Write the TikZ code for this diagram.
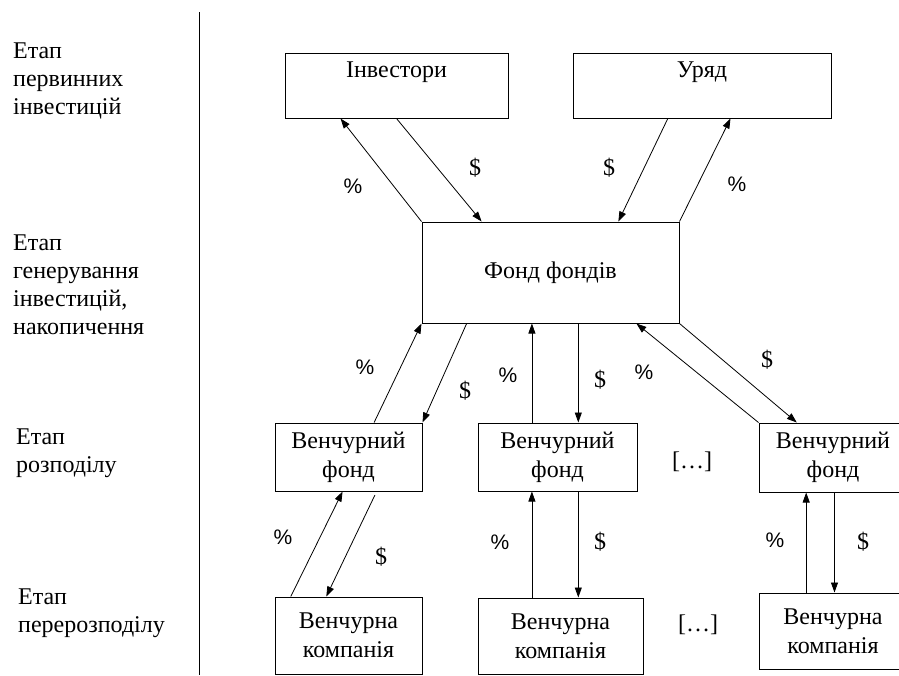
\documentclass[tikz,border=0pt]{standalone}
\usepackage{fontspec}
\setmainfont{Liberation Serif}
\newfontfamily\pctfont{Liberation Sans}
\usetikzlibrary{arrows.meta,calc}

\begin{document}
\begin{tikzpicture}[x=1pt, y=-1pt, every node/.style={font=\fontsize{24}{28}\selectfont}, box/.style={draw, line width=1pt, align=center, inner sep=0pt, font=\fontsize{24}{29}\selectfont}, arr/.style={-{Triangle[length=10pt,width=7pt]}, line width=0.8pt}, pct/.style={font=\pctfont\fontsize{21}{24}\selectfont}, usd/.style={font=\fontsize{24}{28}\selectfont}, stage/.style={anchor=north west, align=left, inner sep=0pt}, dots/.style={font=\fontsize{24}{28}\selectfont}]
\useasboundingbox (0,0) rectangle (899,675);
\clip (0,0) rectangle (899,675);
% stages
\node[stage] (st1) at (13,43) {Етап\\первинних\\інвестицій};
\node[stage] (st2) at (13,235) {Етап\\генерування\\інвестицій,\\накопичення};
\node[stage] (st3) at (16,429) {Етап\\розподілу};
\node[stage] (st4) at (18,589) {Етап\\перерозподілу};
\draw[line width=1pt] (199,12) -- (199,675);
% boxes
\node[box, minimum width=223pt, minimum height=65pt, label={[anchor=center, yshift=-20pt]north:Інвестори}] (inv) at (396.5,85.5) {};
\node[box, minimum width=258pt, minimum height=65pt, label={[anchor=center, yshift=-20pt]north:Уряд}] (gov) at (702,85.5) {};
\node[box, minimum width=257pt, minimum height=101pt] (fof) at (550.5,272.5) {Фонд фондів};
\node[box, minimum width=147pt, minimum height=68pt] (vf1) at (348.5,457) {Венчурний\\фонд};
\node[box, minimum width=159pt, minimum height=68pt] (vf2) at (557.5,457) {Венчурний\\фонд};
\node[box, minimum width=148pt, minimum height=69pt] (vf3) at (833,457.5) {Венчурний\\фонд};
\node[box, minimum width=147pt, minimum height=77pt] (vc1) at (348.5,635.5) {Венчурна\\компанія};
\node[box, minimum width=165pt, minimum height=76pt] (vc2) at (560.5,636) {Венчурна\\компанія};
\node[box, minimum width=148pt, minimum height=76pt] (vc3) at (833,631) {Венчурна\\компанія};
\node[dots] (d1) at (692,462) {[…]};
\node[dots] (d2) at (698,625) {[…]};
% top level
\draw[arr] (fof.north west) -- ($(inv.south west)!0.25!(inv.south east)$);
\draw[arr] (inv.south) -- ($(fof.north west)!0.233!(fof.north east)$);
\draw[arr] ($(gov.south west)!0.368!(gov.south east)$) -- ($(fof.north west)!0.763!(fof.north east)$);
\draw[arr] (fof.north east) -- ($(gov.south west)!0.61!(gov.south east)$);
\node[pct] (p1) at (353,186) {\%};
\node[usd] (s1) at (475,168) {\$};
\node[usd] (s2) at (609,168) {\$};
\node[pct] (p2) at (737,184) {\%};
% fund of funds to venture funds
\draw[arr] ($(vf1.north west)!0.673!(vf1.north east)$) -- (fof.south west);
\draw[arr] ($(fof.south west)!0.175!(fof.south east)$) -- (vf1.north east);
\coordinate (m2a) at ($(vf2.north west)!0.34!(vf2.north east)$);
\coordinate (m2b) at ($(vf2.north west)!0.63!(vf2.north east)$);
\draw[arr] (m2a) -- (m2a |- fof.south);
\draw[arr] (m2b |- fof.south) -- (m2b);
\draw[arr] (vf3.north west) -- ($(fof.south west)!0.833!(fof.south east)$);
\draw[arr] (fof.south east) -- ($(vf3.north west)!0.257!(vf3.north east)$);
\node[pct] (p3) at (365,367) {\%};
\node[usd] (s3) at (465,391) {\$};
\node[pct] (p4) at (508,375) {\%};
\node[usd] (s4) at (600,380) {\$};
\node[pct] (p5) at (644,372) {\%};
\node[usd] (s5) at (767,360) {\$};
% venture funds to companies
\draw[arr] ($(vc1.north west)!0.11!(vc1.north east)$) -- ($(vf1.south west)!0.46!(vf1.south east)$);
\draw[arr, shorten <=4pt] ($(vf1.south west)!0.69!(vf1.south east)$) -- ($(vc1.north west)!0.35!(vc1.north east)$);
\coordinate (b2a) at ($(vf2.south west)!0.34!(vf2.south east)$);
\coordinate (b2b) at ($(vf2.south west)!0.63!(vf2.south east)$);
\draw[arr] (b2a |- vc2.north) -- (b2a);
\draw[arr] (b2b) -- (b2b |- vc2.north);
\coordinate (b3a) at ($(vf3.south west)!0.32!(vf3.south east)$);
\coordinate (b3b) at ($(vf3.south west)!0.51!(vf3.south east)$);
\draw[arr] (b3a |- vc3.north) -- (b3a);
\draw[arr] (b3b) -- (b3b |- vc3.north);
\node[pct] (p6) at (283,537) {\%};
\node[usd] (s6) at (381,557) {\$};
\node[pct] (p7) at (500,542) {\%};
\node[usd] (s7) at (600,542) {\$};
\node[pct] (p8) at (775,540) {\%};
\node[usd] (s8) at (863,542) {\$};
\end{tikzpicture}
\end{document}
